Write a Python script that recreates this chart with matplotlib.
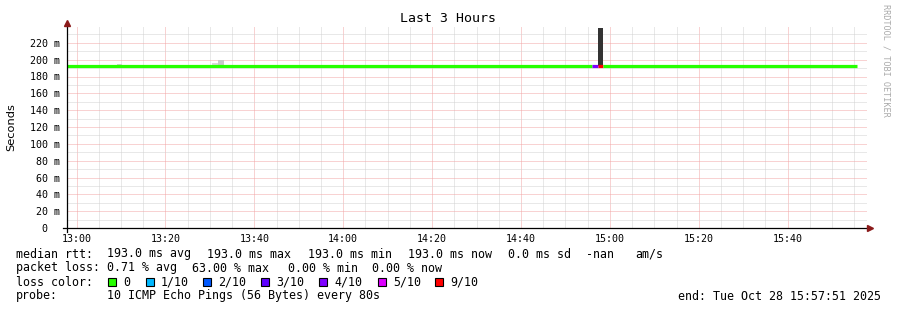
import matplotlib
matplotlib.use("Agg")
import matplotlib.pyplot as plt
from matplotlib.patches import Rectangle
from matplotlib.lines import Line2D

# time axis: minutes after 13:00, graph ends 15:57:51
t_start = -2.15
t_end = 177.85
tick_minutes = [0, 20, 40, 60, 80, 100, 120, 140, 160]
tick_labels = ["13:00", "13:20", "13:40", "14:00", "14:20",
               "14:40", "15:00", "15:20", "15:40"]
y_ticks = [0, 20, 40, 60, 80, 100, 120, 140, 160, 180, 200, 220]
y_labels = ["0  "] + [f"{v} m" for v in y_ticks[1:]]

# median rtt segments (ms) and loss count out of 10
seg_from = [-2.15, 116.0, 117.3, 118.5]
seg_to = [116.0, 117.3, 118.5, 175.6]
seg_median = [193.0, 193.0, 193.0, 193.0]
seg_loss = [0, 4, 9, 0]

# smoke (rtt spread) bands
smoke_from = [9.1, 30.5, 31.8, 117.3]
smoke_to = [10.3, 31.8, 33.1, 118.5]
smoke_lo = [193.0, 193.0, 193.0, 193.0]
smoke_hi = [195.0, 195.5, 200.0, 238.0]
smoke_col = ["#d0d0d0", "#d8d8d8", "#c8c8c8", "#333333"]

loss_names = ["0", "1/10", "2/10", "3/10", "4/10", "5/10", "9/10"]
loss_keys = [0, 1, 2, 3, 4, 5, 9]
loss_colors = ["#26ff00", "#00b8ff", "#0059ff", "#5e00ff",
               "#7e00ff", "#dd00ff", "#ff0000"]

W, H = 897, 310
MONO = "DejaVu Sans Mono"


def fx(x):
    return x / W


def fy(y):
    return 1 - y / H


def main():
    fig = plt.figure(figsize=(W / 100, H / 100), dpi=100)
    fig.patch.set_facecolor("white")
    ax = fig.add_axes([fx(67), fy(228), 800 / W, (228 - 26) / H])
    ax.set_xlim(t_start, t_end)
    ax.set_ylim(0, 240)
    for s in ax.spines.values():
        s.set_visible(False)

    # grid, thin dotted
    minor_style = dict(color="#d2d2d2", lw=0.72, ls=(0, (1, 1)), zorder=0)
    major_style = dict(color="#f2a6a6", lw=0.72, ls=(0, (1, 1)), zorder=0)
    for m in range(0, 180, 5):
        if m % 20:
            ax.axvline(m, **minor_style)
    for m in tick_minutes:
        ax.axvline(m, **major_style)
    for v in range(10, 240, 20):
        ax.axhline(v, **minor_style)
    for v in y_ticks[1:]:
        ax.axhline(v, **major_style)

    # smoke
    for a, b, lo, hi, c in zip(smoke_from, smoke_to, smoke_lo,
                               smoke_hi, smoke_col):
        ax.bar(a, hi - lo, width=b - a, bottom=lo, align="edge",
               color=c, linewidth=0, zorder=2)

    # median line coloured by loss
    for a, b, med, loss in zip(seg_from, seg_to, seg_median, seg_loss):
        ax.hlines(med, a, b, color=loss_colors[loss_keys.index(loss)],
                  lw=2.3, zorder=3)

    ax.set_xticks(tick_minutes)
    ax.set_xticklabels(tick_labels, family=MONO, fontsize=7.2)
    ax.set_yticks(y_ticks)
    ax.set_yticklabels(y_labels, family=MONO, fontsize=7.2)
    ax.tick_params(axis="x", length=0, pad=4)
    ax.tick_params(axis="y", length=0, pad=5)

    # axes lines with arrows
    fig.add_artist(Line2D([fx(63), fx(867)], [fy(228), fy(228)],
                          color="black", lw=0.9))
    fig.add_artist(Line2D([fx(67), fx(67)], [fy(232), fy(25)],
                          color="black", lw=0.9))
    fig.add_artist(Line2D([fx(870)], [fy(228)], marker=">", ms=4,
                          color="#8b1a1a", lw=0))
    fig.add_artist(Line2D([fx(67)], [fy(23)], marker="^", ms=4,
                          color="#8b1a1a", lw=0))

    fig.text(fx(448), fy(19), "Last 3 Hours", family=MONO, fontsize=9.5,
             ha="center", va="center")
    fig.text(fx(11), fy(127), "Seconds", family="DejaVu Sans", fontsize=8.2,
             rotation=90, ha="center", va="center")
    fig.text(fx(886), fy(4), "RRDTOOL / TOBI OETIKER", family=MONO,
             fontsize=6.1, rotation=270, ha="center", va="top",
             color="#aaaaaa")

    legend_rows = [
        (254, [(16, "median rtt:"), (107, "193.0 ms avg"),
               (207, "193.0 ms max"), (308, "193.0 ms min"),
               (408, "193.0 ms now"), (508, "0.0 ms sd"),
               (586, "-nan"), (635, "am/s")]),
        (268, [(16, "packet loss:"), (107, "0.71 % avg"),
               (192, "63.00 % max"), (288, "0.00 % min"),
               (372, "0.00 % now")]),
        (282, [(16, "loss color:")]),
        (296, [(16, "probe:"),
               (107, "10 ICMP Echo Pings (56 Bytes) every 80s")]),
    ]
    for y, items in legend_rows:
        for x, s in items:
            fig.text(fx(x), fy(y), s, family=MONO, fontsize=8.4,
                     ha="left", va="center")
    fig.text(fx(881), fy(296), "end: Tue Oct 28 15:57:51 2025",
             family=MONO, fontsize=8.4, ha="right", va="center")

    sq_x = [108, 146, 203, 261, 319, 378, 435]
    for x, name, c in zip(sq_x, loss_names, loss_colors):
        fig.add_artist(Rectangle((fx(x), fy(286)), 8 / W, 8 / H,
                                 facecolor=c, edgecolor="black", lw=0.8,
                                 transform=fig.transFigure))
        fig.text(fx(x + 15), fy(282), name, family=MONO, fontsize=8.4,
                 ha="left", va="center")

    fig.savefig("out.png", dpi=100)


if __name__ == "__main__":
    main()
